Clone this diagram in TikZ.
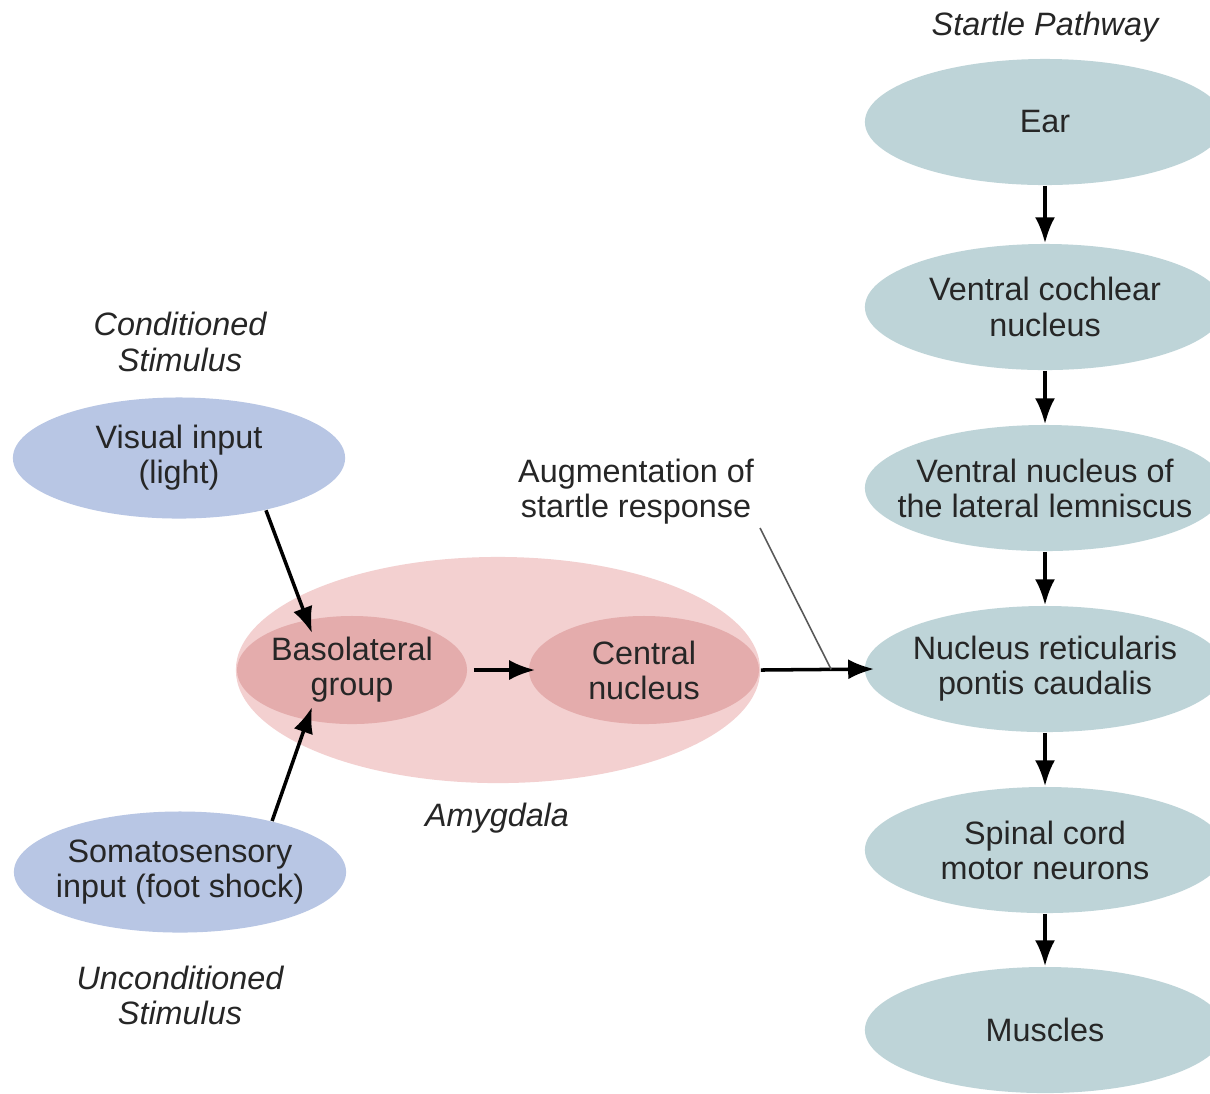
\documentclass[tikz,border=0pt]{standalone}
\usepackage{fontspec}
\setmainfont{Liberation Sans}
\usetikzlibrary{shapes.geometric,arrows.meta}
\definecolor{tealfill}{RGB}{190,212,216}
\definecolor{bluefill}{RGB}{184,198,228}
\definecolor{amyglight}{RGB}{243,208,208}
\definecolor{amygdark}{RGB}{228,172,172}
\begin{document}
\begin{tikzpicture}[x=0.01cm, y=-0.01cm,
  every node/.style={font=\fontsize{9.2}{10}\selectfont, text=black!85, align=center},
  blob/.style={ellipse, inner xsep=-1cm, inner ysep=-0.3cm},
  pathblob/.style={blob, fill=tealfill, minimum width=3.6cm, minimum height=1.26cm},
  stimblob/.style={blob, fill=bluefill, minimum width=3.32cm, minimum height=1.21cm},
  tag/.style={font=\fontsize{9.2}{10}\selectfont\itshape},
  arr/.style={-{Latex[length=2.6mm,width=2mm]}, line width=1pt},
  pointer/.style={draw=black!65, line width=0.45pt}]
\clip (0,0) rectangle (1210,1093);
\fill[white] (0,0) rectangle (1210,1093);

% startle pathway
\node[tag] (title) at (1045, 27) {Startle Pathway};
\node[pathblob] (ear)  at (1045, 122) {Ear};
\node[pathblob] (vcn)  at (1045, 307) {Ventral cochlear\\nucleus};
\node[pathblob] (vnll) at (1045, 488) {Ventral nucleus of\\the lateral lemniscus};
\node[pathblob] (nrpc) at (1045, 669) {Nucleus reticularis\\pontis caudalis};
\node[pathblob] (spin) at (1045, 850) {Spinal cord\\motor neurons};
\node[pathblob] (musc) at (1045, 1030) {Muscles};

% stimuli
\node[tag] (cs) at (180, 342) {Conditioned\\Stimulus};
\node[stimblob] (visual) at (179, 458) {Visual input\\(light)};
\node[stimblob] (soma) at (180, 872) {Somatosensory\\input (foot shock)};
\node[tag] (us) at (180, 995) {Unconditioned\\Stimulus};

% amygdala
\node[blob, fill=amyglight, minimum width=5.24cm, minimum height=2.26cm] (amyg) at (498, 670) {};
\node[blob, fill=amygdark, minimum width=2.3cm, minimum height=1.08cm] (baso) at (352, 670) {Basolateral\\group};
\node[blob, fill=amygdark, minimum width=2.3cm, minimum height=1.08cm] (central) at (644, 670) {Central\\nucleus};
\node[tag] (amyglabel) at (497, 818) {Amygdala};
\node (aug) at (636, 492) {Augmentation of\\startle response};
\coordinate (bltop) at (312, 633);
\coordinate (blbot) at (312, 707);
\coordinate (augstart) at (760, 528);

\draw[arr] (ear) -- (vcn);
\draw[arr] (vcn) -- (vnll);
\draw[arr] (vnll) -- (nrpc);
\draw[arr] (nrpc) -- (spin);
\draw[arr] (spin) -- (musc);

\draw[arr] (visual.-31) -- (bltop);
\draw[arr] (soma.29) -- (blbot);
\draw[arr] ([xshift=0.6mm]baso.east) -- ([xshift=0.7mm]central.west);
\draw[arr] (amyg.east) -- coordinate[pos=0.62] (augpt) ([xshift=1mm]nrpc.west);
\draw[pointer] (augstart) -- (augpt);

\end{tikzpicture}
\end{document}
